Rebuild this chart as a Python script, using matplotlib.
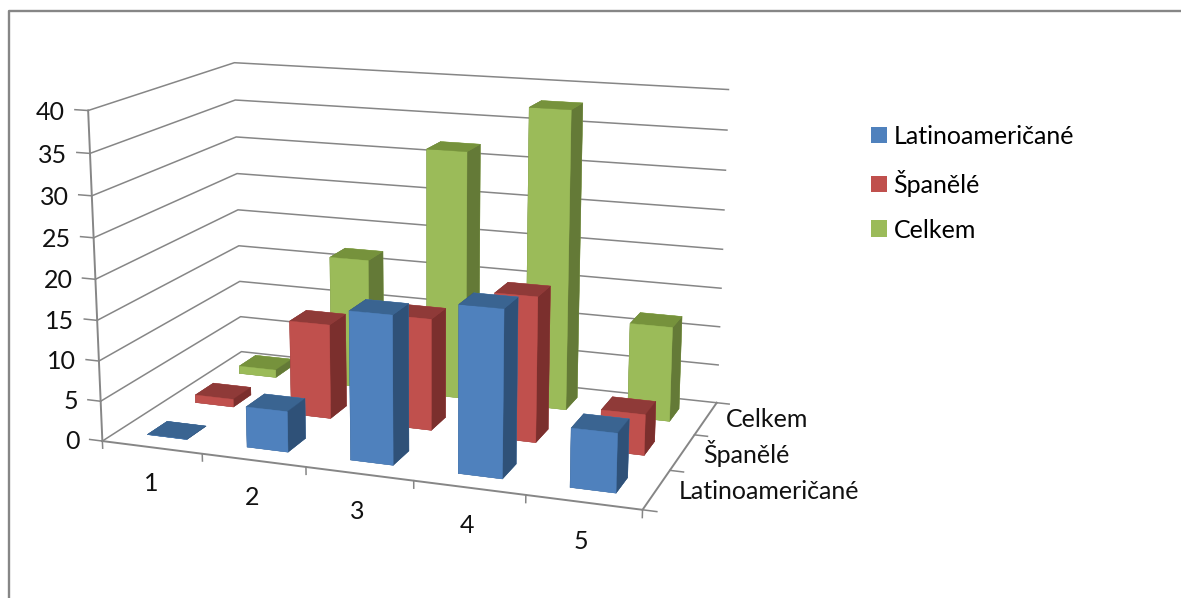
import matplotlib
matplotlib.use('Agg')
import matplotlib.pyplot as plt
from matplotlib.lines import Line2D
from matplotlib.patches import Patch
from mpl_toolkits.mplot3d import proj3d

plt.rcParams['font.family'] = ['Lato', 'DejaVu Sans']

categories = ['1', '2', '3', '4', '5']
series = ['Latinoameričané', 'Španělé', 'Celkem']
latino = [0, 5, 18, 20, 7]
spanele = [1, 12, 14, 18, 5]
celkem = [1, 17, 32, 38, 12]
z_ticks = [0, 5, 10, 15, 20, 25, 30, 35, 40]

# front, top and side shade of each series
front_colors = ['#4F81BD', '#C0504D', '#9BBB59']
top_colors = ['#3A6491', '#8F3A38', '#76923C']
side_colors = ['#2F5178', '#7B2F2D', '#647A37']
grid_color = '#868686'
text_color = '#111111'
bar_width = 0.40
font_size = 18

W, H = 1181, 598
fig = plt.figure(figsize=(W / 100, H / 100), dpi=100)
side = 697.73
ax = fig.add_axes([59.70 / W, 1 + 75.58 / H - side / H, side / W, side / H], projection='3d')
ax.set_xlim(0, 5)
ax.set_ylim(0, 3)
ax.set_zlim(0, 40)
ax.view_init(14.27, -69.95, 0.087)
ax.set_proj_type('persp', focal_length=0.525)
ax.set_box_aspect((1.0, 0.5938, 0.6051))
ax.set_axis_off()
ax.patch.set_alpha(0)
ax.computed_zorder = False

nx = len(categories)
ny = len(series)


def label(x, y, z, text, ha):
    # axis labels sit at a projected 3d spot but stay plain 2d text
    px, py, _ = proj3d.proj_transform(x, y, z, ax.get_proj())
    ax.text2D(px, py, text, transform=ax.transData, ha=ha, va='center',
              fontsize=font_size, color=text_color)


# walls
for z in z_ticks:
    ax.plot([0, 0, nx], [0, ny, ny], [z, z, z], color=grid_color, lw=1.1, zorder=1)
    ax.plot([0, -0.13], [0, 0], [z, z], color=grid_color, lw=1.1, zorder=1)
    label(-0.23, 0, z - 0.4, str(z), 'right')

# floor edges and axis lines
ax.plot([0, nx, nx], [0, 0, ny], [0, 0, 0], color=grid_color, lw=1.4, zorder=1)
ax.plot([0, 0], [0, 0], [0, z_ticks[-1]], color=grid_color, lw=1.4, zorder=1)
for i in range(nx + 1):
    ax.plot([i, i], [0, 0], [0, -0.9], color=grid_color, lw=1.1, zorder=1)
for j in range(ny + 1):
    ax.plot([nx, nx + 0.12], [j, j], [0, 0], color=grid_color, lw=1.1, zorder=1)

for i, name in enumerate(categories):
    label(i + 0.48, 0, -4.6, name, 'center')
for j, name in enumerate(series):
    label(nx + 0.19, j + 0.5, 0.1, name, 'left')

# bars, painted from the back row forward and left to right
values = [latino, spanele, celkem]
order = 10
for j in reversed(range(ny)):
    for i in range(nx):
        faces = [top_colors[j], top_colors[j], front_colors[j], front_colors[j],
                 side_colors[j], side_colors[j]]
        ax.bar3d(i + 0.5 - bar_width / 2, j + 0.5 - bar_width / 2, 0,
                 bar_width, bar_width, values[j][i], color=faces,
                 edgecolor=faces, linewidth=0.3, shade=False, zorder=order)
        order += 1

handles = [Patch(facecolor=c, edgecolor='none') for c in front_colors]
fig.legend(handles, series, loc='upper left', bbox_to_anchor=(863.5 / W, 1 - 117.5 / H),
           frameon=False, fontsize=font_size, handlelength=0.62, handleheight=0.64,
           handletextpad=0.28, labelspacing=0.87, borderpad=0.3, borderaxespad=0)

# chart frame, cut by the image on the right and at the bottom
fig.add_artist(Line2D([9.5 / W, 9.5 / W, 1], [0, 1 - 10.5 / H, 1 - 10.5 / H],
                      color=grid_color, lw=1.7))

fig.savefig('out.png', dpi=100)
